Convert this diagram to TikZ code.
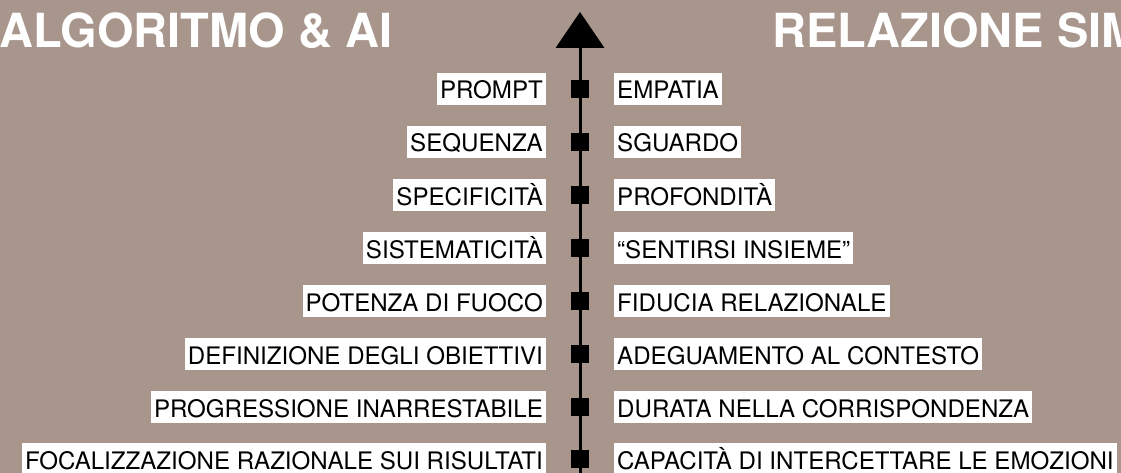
\documentclass[tikz,border=0pt]{standalone}
\usepackage{fontspec}
\setmainfont{TeX Gyre Heros}
\usetikzlibrary{arrows.meta,positioning}
\definecolor{sfondo}{RGB}{168,150,141}

\tikzset{
  titolo/.style={font=\fontsize{47}{50}\selectfont\bfseries,text=white,inner sep=0pt,anchor=base west},
  voce/.style={fill=white,font=\fontsize{24.1}{26}\selectfont,inner xsep=3pt,inner ysep=0pt,text height=26pt,text depth=6pt},
  sx/.style={voce,anchor=east},
  dx/.style={voce,anchor=west},
  tacca/.style={fill=black,minimum size=18pt,inner sep=0pt},
  asse/.style={line width=3pt,-{Triangle[width=49pt,length=36pt,line width=0pt]}}
}

\begin{document}
\begin{tikzpicture}[x=1pt,y=-1pt]
    \fill[sfondo] (0,0) rectangle (1121,473);
    \useasboundingbox (0,0) rectangle (1121,473);
    \clip (0,0) rectangle (1121,473);
    % titoli
    \node[titolo] (tsx) at (-1,48) {ALGORITMO \& AI};
    \node[titolo] (tdx) at (772,48) {RELAZIONE SIM};
    % asse
    \coordinate (fondo) at (580,480);
    \coordinate (punta) at (580,12);
    \draw[asse] (fondo) -- (punta);
    \node[tacca] (t1) at (580,89) {};
    \node[tacca] (t2) at (580,142) {};
    \node[tacca] (t3) at (580,195) {};
    \node[tacca] (t4) at (580,248) {};
    \node[tacca] (t5) at (580,301) {};
    \node[tacca] (t6) at (580,354) {};
    \node[tacca] (t7) at (580,407) {};
    \node[tacca] (t8) at (580,459) {};
    % voci a sinistra
    \node[sx] (s1) at (546,89) {PROMPT};
    \node[sx] (s2) at (546,142) {SEQUENZA};
    \node[sx] (s3) at (546,195) {SPECIFICITÀ};
    \node[sx] (s4) at (546,248) {SISTEMATICITÀ};
    \node[sx] (s5) at (546,301) {POTENZA DI FUOCO};
    \node[sx] (s6) at (546,354) {DEFINIZIONE DEGLI OBIETTIVI};
    \node[sx] (s7) at (546,407) {PROGRESSIONE INARRESTABILE};
    \node[sx] (s8) at (546,459) {FOCALIZZAZIONE RAZIONALE SUI RISULTATI};
    % voci a destra
    \node[dx] (d1) at (614,89) {EMPATIA};
    \node[dx] (d2) at (614,142) {SGUARDO};
    \node[dx] (d3) at (614,195) {PROFONDITÀ};
    \node[dx] (d4) at (614,248) {“SENTIRSI INSIEME”};
    \node[dx] (d5) at (614,301) {FIDUCIA RELAZIONALE};
    \node[dx] (d6) at (614,354) {ADEGUAMENTO AL CONTESTO};
    \node[dx] (d7) at (614,407) {DURATA NELLA CORRISPONDENZA};
    \node[dx] (d8) at (614,459) {CAPACITÀ DI INTERCETTARE LE EMOZIONI};
\end{tikzpicture}
\end{document}
